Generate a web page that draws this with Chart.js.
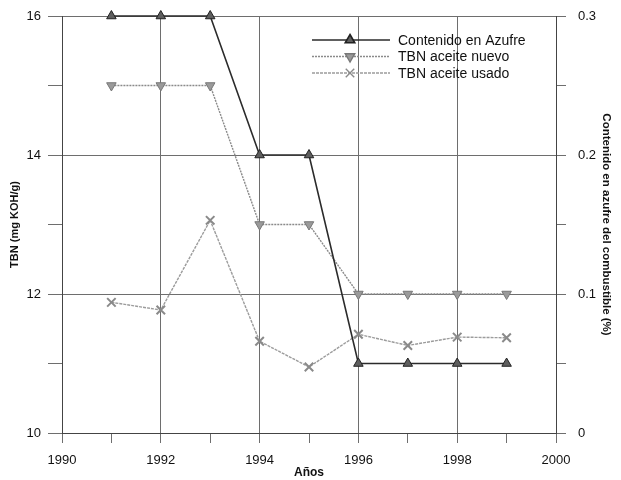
<!DOCTYPE html>
<html>
<head>
<meta charset="utf-8">
<script src="https://cdn.jsdelivr.net/npm/chart.js@4"></script>
<style>
  html, body { margin: 0; padding: 0; background: #fff; }
  #wrap { width: 621px; height: 480px; }
</style>
</head>
<body>
<div id="wrap"><canvas id="c" width="621" height="480"></canvas></div>
<script>
// años y series
const anios = [1991, 1992, 1993, 1994, 1995, 1996, 1997, 1998, 1999];
const azufre = [0.3, 0.3, 0.3, 0.2, 0.2, 0.05, 0.05, 0.05, 0.05];
const tbnNuevo = [15, 15, 15, 13, 13, 12, 12, 12, 12];
const tbnUsado = [11.88, 11.77, 13.06, 11.32, 10.95, 11.42, 11.26, 11.38, 11.37];
const etiquetas = ['Contenido en Azufre', 'TBN aceite nuevo', 'TBN aceite usado'];

const FONT = 'Liberation Sans, Arial, sans-serif';
const pts = vals => anios.map((a, i) => ({ x: a, y: vals[i] }));

const estilos = [
    { line: '#2b2b2b', fill: '#5e5e5e', border: '#222', style: 'triangle', rot: 0, r: 5.5, bw: 1, dash: [], lw: 1.6 },
    { line: '#8a8a8a', fill: '#9a9a9a', border: '#777', style: 'triangle', rot: 180, r: 5.5, bw: 1, dash: [2, 1], lw: 1.4 },
    { line: '#9c9c9c', fill: '#999', border: '#8a8a8a', style: 'crossRot', rot: 0, r: 6, bw: 2, dash: [3, 1], lw: 1.4 }
];

const ds = (label, vals, e, axis) => ({
    label, data: pts(vals), yAxisID: axis, clip: false,
    borderColor: e.line, borderWidth: e.lw, borderDash: e.dash,
    pointStyle: e.style, pointRotation: e.rot, pointRadius: e.r,
    pointBackgroundColor: e.fill, pointBorderColor: e.border, pointBorderWidth: e.bw,
    tension: 0, fill: false
});

// leyenda dibujada a mano: línea con marcador en medio
const leyenda = {
    id: 'leyenda',
    afterDraw(chart) {
        const ctx = chart.ctx;
        etiquetas.forEach((t, i) => {
            const e = estilos[i], y = 40 + i * 16.5;
            ctx.save();
            ctx.strokeStyle = e.line; ctx.lineWidth = e.lw; ctx.setLineDash(e.dash);
            ctx.beginPath(); ctx.moveTo(312, y); ctx.lineTo(390, y); ctx.stroke();
            ctx.setLineDash([]);
            ctx.fillStyle = e.fill; ctx.strokeStyle = e.border;
            Chart.helpers.drawPoint(ctx, { pointStyle: e.style, radius: e.r, rotation: e.rot, borderWidth: e.bw }, 350, y);
            ctx.fillStyle = '#111'; ctx.font = '14px ' + FONT; ctx.textBaseline = 'middle';
            ctx.fillText(t, 398, y + 1);
            ctx.restore();
        });
    }
};

const gris = '#6e6e6e';
new Chart(document.getElementById('c'), {
    type: 'line',
    data: {
        datasets: [
            ds(etiquetas[0], azufre, estilos[0], 'y2'),
            ds(etiquetas[1], tbnNuevo, estilos[1], 'y'),
            ds(etiquetas[2], tbnUsado, estilos[2], 'y')
        ]
    },
    options: {
        responsive: false, animation: false,
        layout: { padding: { top: 16, bottom: 0, left: 8, right: 8 } },
        plugins: { legend: { display: false }, tooltip: { enabled: false } },
        scales: {
            x: {
                type: 'linear', min: 1990, max: 2000,
                ticks: { stepSize: 1, color: '#111', font: { family: FONT, size: 13 }, padding: 10,
                    callback: v => v % 2 ? '' : String(v) },
                grid: { color: c => c.tick && c.tick.value % 2 ? 'rgba(0,0,0,0)' : gris, tickColor: gris, tickLength: 10 },
                border: { color: '#444' },
                title: { display: true, text: 'Años', color: '#111', padding: 0, font: { family: FONT, size: 12, weight: 'bold' } },
                afterFit: s => { s.height = 47; s.paddingLeft = 0; s.paddingRight = 0; }
            },
            y: {
                position: 'left', min: 10, max: 16,
                ticks: { stepSize: 1, color: '#111', font: { family: FONT, size: 13 }, padding: 7,
                    callback: v => v % 2 ? '' : String(v) },
                grid: { color: c => c.tick && c.tick.value % 2 ? 'rgba(0,0,0,0)' : gris, tickColor: gris, tickLength: 14 },
                border: { color: '#444' },
                title: { display: true, text: 'TBN (mg KOH/g)', color: '#111', padding: 0, font: { family: FONT, size: 11, weight: 'bold' } },
                afterFit: s => { s.width = 54; s.paddingTop = 0; s.paddingBottom = 0; }
            },
            y2: {
                position: 'right', min: 0, max: 0.3,
                ticks: { stepSize: 0.05, color: '#111', font: { family: FONT, size: 13 }, padding: 12,
                    callback: v => Math.round(v * 100) % 10 ? '' : String(Math.round(v * 10) / 10) },
                grid: { drawOnChartArea: false, color: gris, tickLength: 10 },
                border: { color: '#444' },
                title: { display: true, text: 'Contenido en azufre del combustible (%)', color: '#111', padding: 0, font: { family: FONT, size: 11.5, weight: 'bold' } },
                afterFit: s => { s.width = 57; s.paddingTop = 0; s.paddingBottom = 0; }
            }
        }
    },
    plugins: [leyenda]
});
</script>
</body>
</html>
